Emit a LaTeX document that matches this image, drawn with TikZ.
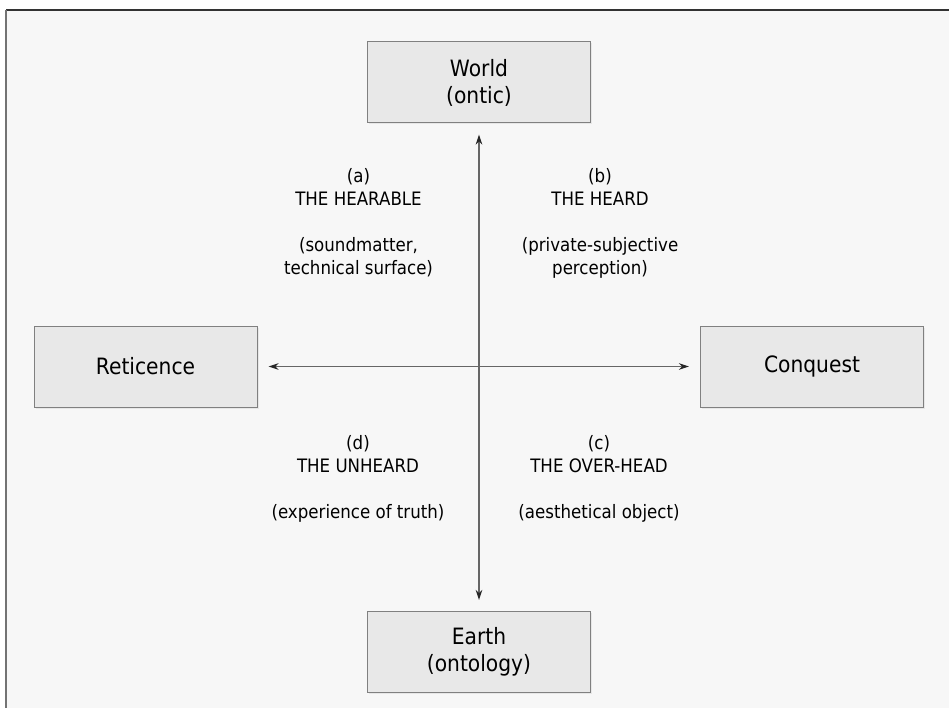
\documentclass[tikz,border=0pt]{standalone}
\usepackage{fontspec}
\setmainfont[FakeStretch=0.9]{DejaVu Sans}
\usetikzlibrary{arrows.meta,shadows}

\definecolor{paper}{HTML}{F7F7F7}
\definecolor{boxfill}{HTML}{E8E8E8}
\definecolor{boxline}{HTML}{808080}
\definecolor{axisgray}{HTML}{666666}

\tikzset{
    pole/.style={draw=boxline, line width=1pt, fill=boxfill,
        minimum width=223pt, minimum height=81pt, inner sep=0pt,
        align=center, font=\fontsize{22.5}{27}\selectfont,
        drop shadow={shadow xshift=1.5pt, shadow yshift=-1.5pt, fill=black!15}},
    quad/.style={align=center, anchor=north, inner sep=0pt,
        font=\fontsize{18.5}{23}\selectfont},
    axisline/.style={draw=axisgray, line width=1.3pt,
        {Stealth[length=10pt,width=6.5pt,color=black!85]}-{Stealth[length=10pt,width=6.5pt,color=black!85]},
        shorten <=11pt, shorten >=11pt}
}

\begin{document}
\begin{tikzpicture}[x=1pt,y=-1pt]
    \useasboundingbox (0,0) rectangle (949,708);
    \fill[white] (0,0) rectangle (949,708);
    \fill[paper] (6,10) rectangle (949,708);
    \draw[black!80, line width=1.5pt] (6,10) -- (949,10);
    \draw[black!55, line width=1.5pt] (6,10) -- (6,708);

    \node[pole] (world) at (479,82.5) {World\\(ontic)};
    \node[pole] (earth) at (479,652) {Earth\\(ontology)};
    \node[pole] (ret) at (145.5,366.5) {Reticence};
    \node[pole] (conq) at (812,366.5) {Conquest};

    \draw[axisline] (ret) -- (conq);
    \draw[axisline] (world) -- (earth);

    \node[quad] (qA) at (358.5,168) {(a)\\THE HEARABLE\\[23pt](soundmatter,\\technical surface)};
    \node[quad] (qB) at (600,168) {(b)\\THE HEARD\\[23pt](private-subjective\\perception)};
    \node[quad] (qD) at (358,435) {(d)\\THE UNHEARD\\[23pt](experience of truth)};
    \node[quad] (qC) at (599,435) {(c)\\THE OVER-HEAD\\[23pt](aesthetical object)};
\end{tikzpicture}
\end{document}
